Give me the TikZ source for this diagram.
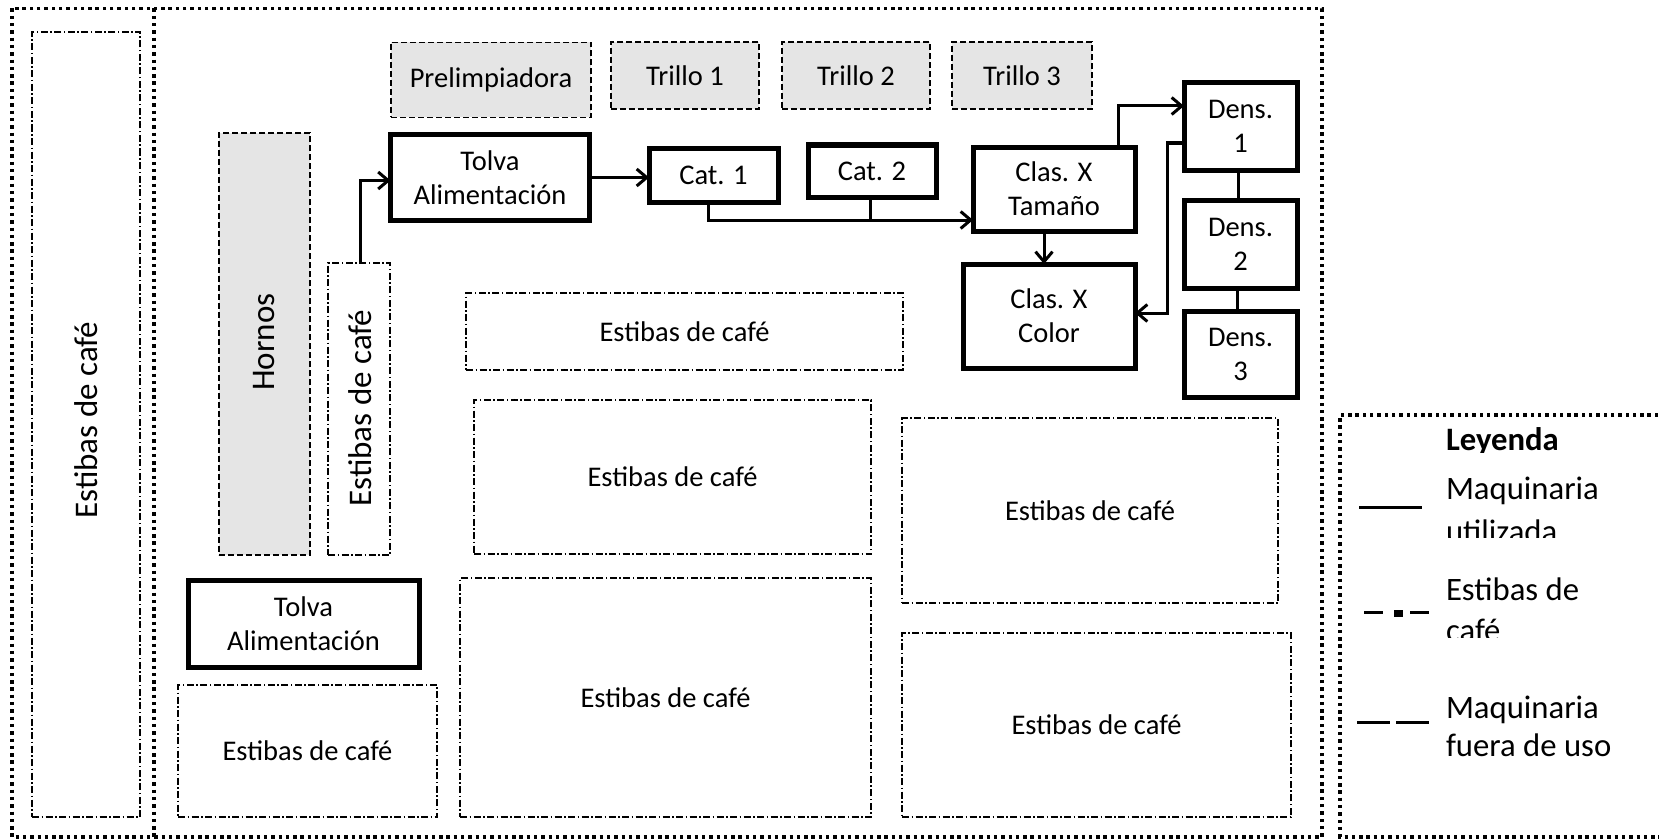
\documentclass[tikz,border=0pt]{standalone}
\usepackage{fontspec}
\setmainfont{Carlito}
\usetikzlibrary{arrows.meta}
\begin{document}
\begin{tikzpicture}[x=1pt,y=-1pt,
  every node/.style={inner sep=0pt, outer sep=0pt, align=center, font=\fontsize{28.5}{34}\selectfont},
  mach/.style={draw, line width=5pt, rectangle},
  offuse/.style={draw, fill=black!10, line width=1.5pt, dash pattern=on 6pt off 3pt},
  stk/.style={draw, line width=1.3pt, dash pattern=on 7pt off 2.5pt on 1.5pt off 2.5pt},
  framed/.style={line width=3.5pt, dash pattern=on 3.4pt off 3.9pt},
  conn/.style={line width=3pt},
  arr/.style={conn, -{Straight Barb[length=10pt,width=17pt,line width=3pt]}},
  bigtext/.style={font=\fontsize{33}{39}\selectfont},
  legtext/.style={anchor=base west, align=left, font=\fontsize{32.7}{39}\selectfont},
]
\useasboundingbox (0,0) rectangle (1659,840);

% frames
\draw[framed] (12,8.5) rectangle (1322,837);
\draw[framed] (154,8.5) -- (154,837);
\draw[framed] (1680,415) -- (1340,415) -- (1340,837) -- (1680,837);

% left column
\node[stk, minimum width=108pt, minimum height=785pt] (leftcol) at (86,424.5) {};
\node[bigtext, rotate=90] (leftcoltxt) at (86,420) {Estibas de café};

% out of use machinery
\node[offuse, minimum width=200pt, minimum height=75pt] (prelim) at (491,80) {Prelimpiadora};
\node[offuse, minimum width=148pt, minimum height=67pt] (tr1) at (685,75.5) {Trillo 1};
\node[offuse, minimum width=148pt, minimum height=67pt] (tr2) at (856,75.5) {Trillo 2};
\node[offuse, minimum width=140pt, minimum height=67pt] (tr3) at (1022,75.5) {Trillo 3};
\node[offuse, minimum width=91pt, minimum height=422pt] (hornos) at (264.5,344) {};
\node[bigtext, rotate=90] (hornostxt) at (264.5,342) {Hornos};

% small stack column
\node[stk, minimum width=62pt, minimum height=292pt] (smallcol) at (359,409) {};
\node[bigtext, rotate=90] (smallcoltxt) at (360,408) {Estibas de café};

% machinery in use
\node[mach, minimum width=199pt, minimum height=86pt] (tolva1) at (490,177.5) {Tolva\\Alimentación};
\node[mach, minimum width=129pt, minimum height=54pt] (cat1) at (713.5,175) {Cat. 1};
\node[mach, minimum width=128pt, minimum height=52pt] (cat2) at (872,171) {Cat. 2};
\node[mach, minimum width=162pt, minimum height=84pt] (clasT) at (1054,189) {Clas. X\\Tamaño};
\node[mach, minimum width=172pt, minimum height=104pt] (clasC) at (1049,316) {Clas. X\\Color};
\node[mach, minimum width=113pt, minimum height=87pt] (dens1) at (1240.5,126.5) {Dens.\\1};
\node[mach, minimum width=113pt, minimum height=88pt] (dens2) at (1240.5,244) {Dens.\\2};
\node[mach, minimum width=113pt, minimum height=86pt] (dens3) at (1240.5,354) {Dens.\\3};
\node[mach, minimum width=231pt, minimum height=87pt] (tolva2) at (303.5,623.5) {Tolva\\Alimentación};

% stacks
\node[stk, minimum width=437pt, minimum height=77pt] (e1) at (684.5,331.5) {Estibas de café};
\node[stk, minimum width=397pt, minimum height=154pt] (e2) at (672.5,477) {Estibas de café};
\node[stk, minimum width=376pt, minimum height=185pt] (e3) at (1090,510.5) {Estibas de café};
\node[stk, minimum width=411pt, minimum height=239pt] (e4) at (665.5,697.5) {Estibas de café};
\node[stk, minimum width=389pt, minimum height=184pt] (e5) at (1096.5,725) {Estibas de café};
\node[stk, minimum width=259pt, minimum height=132pt] (e6) at (307.5,751) {Estibas de café};

% connectors
\coordinate (jn) at ([yshift=-31pt]clasT.west);
\draw[arr] ([xshift=1pt]smallcol.north) |- ([yshift=-3pt]tolva1.west);
\draw[arr] (tolva1.east) -- (tolva1.east -| cat1.west);
\draw[arr] ([xshift=-5pt]cat1.south) |- (jn);
\draw[conn] ([xshift=-2pt]cat2.south) -- ([xshift=-2pt]cat2.south |- jn);
\draw[arr] ([xshift=-10pt]clasT.south) -- ([xshift=-10pt]clasT.south |- clasC.north);
\draw[arr] ([xshift=64pt]clasT.north) |- ([yshift=20.5pt]dens1.west);
\draw[arr] ([yshift=-16.5pt]dens1.west) -- ++(-17,0) |- ([yshift=3pt]clasC.east);
\draw[line width=2.5pt] ([xshift=-2pt]dens1.south) -- ([xshift=-2pt]dens2.north);
\draw[line width=2.5pt] ([xshift=-3pt]dens2.south) -- ([xshift=-3pt]dens3.north);

% legend
\begin{scope}
\clip (1400,400) rectangle (1659,452);
\node[legtext, font=\bfseries\fontsize{32.7}{39}\selectfont] (leg) at (1446,450) {Leyenda};
\end{scope}
\begin{scope}
\clip (1400,460) rectangle (1659,537);
\node[legtext] (l1a) at (1446,499) {Maquinaria};
\node[legtext] (l1b) at (1446,542) {utilizada};
\end{scope}
\begin{scope}
\clip (1400,570) rectangle (1659,637);
\node[legtext] (l2a) at (1446,600) {Estibas de};
\node[legtext] (l2b) at (1446,641) {café};
\end{scope}
\node[legtext] (l3a) at (1446,718) {Maquinaria};
\node[legtext] (l3b) at (1446,756) {fuera de uso};

\coordinate (s1a) at (1359,507);
\coordinate (s1b) at (1422,507);
\draw[line width=3pt] (s1a) -- (s1b);
\coordinate (s2a) at (1364,612);
\coordinate (s2b) at (1383,612);
\coordinate (s2c) at (1410,612);
\coordinate (s2d) at (1429,612);
\draw[line width=3pt] (s2a) -- (s2b);
\draw[line width=3pt] (s2c) -- (s2d);
\fill (1394,610) rectangle (1403,617);
\coordinate (s3a) at (1357,722);
\coordinate (s3b) at (1390,722);
\coordinate (s3c) at (1396,722);
\coordinate (s3d) at (1429,722);
\draw[line width=3pt] (s3a) -- (s3b);
\draw[line width=3pt] (s3c) -- (s3d);
\end{tikzpicture}
\end{document}
